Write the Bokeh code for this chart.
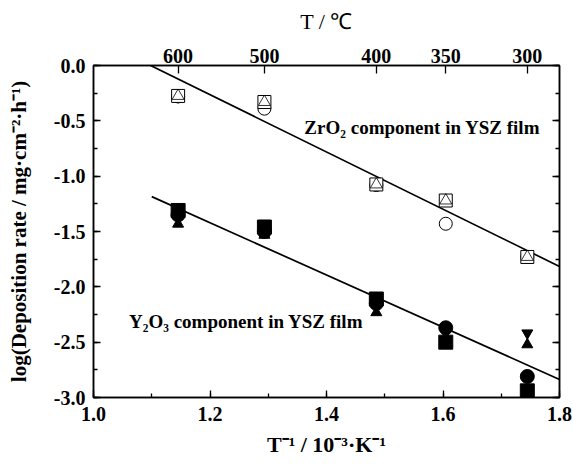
from bokeh.plotting import figure
from bokeh.models import (LinearAxis, FixedTicker, SingleIntervalTicker,
                          NumeralTickFormatter, CustomJSTickFormatter, Label)
from bokeh.transform import dodge
from bokeh.embed import file_html
from bokeh.resources import INLINE

# ---- data ----
temps_c = [600, 500, 400, 350, 300]
inv_t = [1000.0 / (t + 273.15) for t in temps_c]

zr_square = [-0.275, -0.33, -1.075, -1.22, -1.73]
zr_circle = [-0.28, -0.39, -1.08, -1.43, -1.73]
zr_triangle = [-0.275, -0.33, -1.075, -1.22, -1.73]

y_square = [-1.31, -1.46, -2.11, -2.50, -2.94]
y_circle = [-1.35, -1.50, -2.15, -2.37, -2.81]
y_hourglass = [-1.38, -1.48, -2.18, -2.47, -2.47]

zr_fit_x = [1.098, 1.80]
zr_fit_y = [0.0, -1.816]
y_fit_x = [1.10, 1.80]
y_fit_y = [-1.185, -2.837]

x_tick_interval = 0.2
y_tick_interval = 0.5

FONT = "Liberation Serif"

p = figure(x_range=(1.0, 1.8), y_range=(-3.0, 0.0),
           frame_width=466, frame_height=332,
           min_border_left=93, min_border_right=14,
           min_border_top=65, min_border_bottom=66,
           output_backend="svg", toolbar_location=None,
           background_fill_color="white", border_fill_color="white")
p.xgrid.visible = False
p.ygrid.visible = False
p.outline_line_color = "black"
p.outline_line_width = 1.5


def style_axis(ax, size="20px"):
    ax.axis_line_width = 1.5
    ax.axis_line_color = "black"
    ax.major_tick_in = 7
    ax.major_tick_out = 0
    ax.minor_tick_in = 4
    ax.minor_tick_out = 0
    ax.major_tick_line_width = 1.3
    ax.minor_tick_line_width = 1.3
    ax.major_label_text_font = FONT
    ax.major_label_text_font_style = "bold"
    ax.major_label_text_font_size = size
    ax.major_label_text_color = "black"
    ax.axis_label_text_font = FONT
    ax.axis_label_text_color = "black"


# bottom axis
xb = p.xaxis[0]
xb.ticker = SingleIntervalTicker(interval=x_tick_interval, num_minor_ticks=2)
xb.formatter = NumeralTickFormatter(format="0.0")
style_axis(xb)
xb.major_label_standoff = 9
xb.axis_label = "T⁻¹ / 10⁻³·K⁻¹"
xb.axis_label_text_font_size = "22px"
xb.axis_label_text_font_style = "bold"
xb.axis_label_standoff = 8

# left axis
yl = p.yaxis[0]
yl.ticker = SingleIntervalTicker(interval=y_tick_interval, num_minor_ticks=2)
yl.formatter = NumeralTickFormatter(format="0.0")
style_axis(yl)
yl.major_label_standoff = 8
yl.axis_label = "log(Deposition rate / mg·cm⁻²·h⁻¹)"
yl.axis_label_text_font_size = "21px"
yl.axis_label_text_font_style = "bold"
yl.axis_label_standoff = 20

# right axis (ticks only)
yr = LinearAxis(ticker=SingleIntervalTicker(interval=y_tick_interval, num_minor_ticks=2),
                formatter=CustomJSTickFormatter(code="return '';"))
style_axis(yr)
yr.major_label_standoff = 0
p.add_layout(yr, "right")

# top axis in degC
xt = LinearAxis(ticker=FixedTicker(ticks=inv_t, minor_ticks=[]),
                formatter=CustomJSTickFormatter(code="return Math.round(1000/tick - 273.15).toString();"))
style_axis(xt, size="20px")
xt.major_label_standoff = 3
xt.major_tick_in = 8
xt.axis_label = "T / ℃"
xt.axis_label_text_font_size = "22px"
xt.axis_label_text_font_style = "normal"
xt.axis_label_standoff = 12
p.add_layout(xt, "above")

# fit lines
p.line(zr_fit_x, zr_fit_y, line_color="black", line_width=1.7)
p.line(y_fit_x, y_fit_y, line_color="black", line_width=1.7)

# ZrO2 (open symbols)
p.scatter(inv_t, zr_circle, marker="circle", size=13, fill_color="white",
          line_color="black", line_width=1.0)
p.scatter(inv_t, zr_square, marker="square", size=13, fill_color="white",
          line_color="black", line_width=1.0)
p.scatter(inv_t, zr_triangle, marker="triangle", size=12, fill_color=None,
          line_color="black", line_width=0.8)

# Y2O3 (filled symbols)
src = dict(x=inv_t, y=y_hourglass)
p.scatter(x="x", y=dodge("y", 0.052, range=p.y_range), source=src,
          marker="inverted_triangle", size=11, fill_color="black", line_color="black")
p.scatter(x="x", y=dodge("y", -0.052, range=p.y_range), source=src,
          marker="triangle", size=11, fill_color="black", line_color="black")
p.scatter(inv_t, y_circle, marker="circle", size=14, fill_color="black", line_color="black")
p.scatter(inv_t, y_square, marker="square", size=14, fill_color="black", line_color="black")

# annotations
p.add_layout(Label(x=1.362, y=-0.56, text="ZrO₂ component in YSZ film",
                   text_font=FONT, text_font_style="bold", text_font_size="19px",
                   text_baseline="middle", text_color="black"))
p.add_layout(Label(x=1.061, y=-2.31, text="Y₂O₃ component in YSZ film",
                   text_font=FONT, text_font_style="bold", text_font_size="19px",
                   text_baseline="middle", text_color="black"))

open("out.html", "w").write(file_html(p, INLINE))
